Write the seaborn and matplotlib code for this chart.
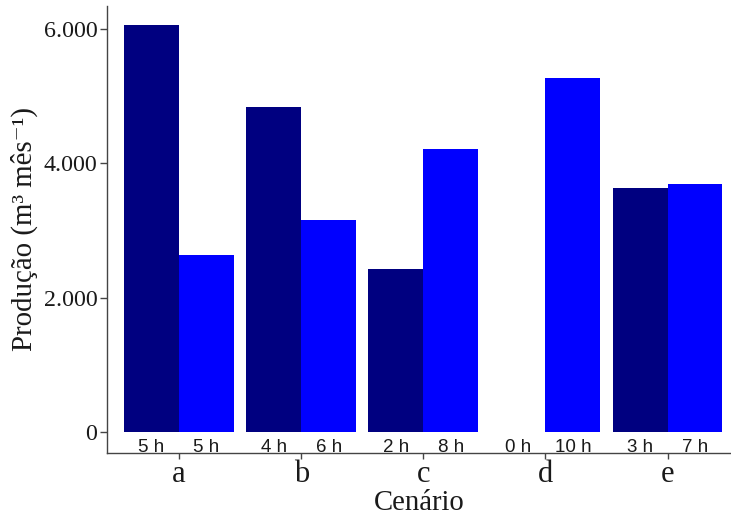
import matplotlib
matplotlib.use("Agg")
import matplotlib.pyplot as plt
import seaborn as sns
import pandas as pd
from matplotlib.ticker import FuncFormatter

cenarios = ["a", "b", "c", "d", "e"]
serie_1 = [6052, 4833, 2419, 0, 3628]
serie_2 = [2627, 3152, 4213, 5259, 3683]
horas_1 = ["5 h", "4 h", "2 h", "0 h", "3 h"]
horas_2 = ["5 h", "6 h", "8 h", "10 h", "7 h"]
series = ["s1", "s2"]
cores = ["#000080", "#0000FF"]

df = pd.DataFrame({
    "Cenário": cenarios * 2,
    "Produção": serie_1 + serie_2,
    "Serie": [series[0]] * len(cenarios) + [series[1]] * len(cenarios),
})

sns.set_theme(style="ticks")
plt.rcParams["font.family"] = ["Liberation Serif", "DejaVu Serif"]

fig = plt.figure(figsize=(7.31, 5.15), dpi=100)
ax = fig.add_axes([0.1464, 0.1204, 0.8536, 0.8685])

sns.barplot(data=df, x="Cenário", y="Produção", hue="Serie", order=cenarios,
            hue_order=series, palette=cores, width=0.9, gap=0, dodge=True,
            saturation=1, errorbar=None, legend=False, ax=ax, edgecolor="none")

off = 0.225
fam_h = ["Liberation Sans Narrow", "Liberation Sans", "DejaVu Sans"]
for i in range(len(cenarios)):
    ax.text(i - off, -295, horas_1[i], ha="center", va="baseline", fontsize=13.5,
            family=fam_h, color="#1a1a1a")
    ax.text(i + off, -295, horas_2[i], ha="center", va="baseline", fontsize=13.5,
            family=fam_h, color="#1a1a1a")

ax.set_xlim(-0.59, 4.52)
ax.set_ylim(-312, 6339)
ax.set_yticks([0, 2000, 4000, 6000])
ax.yaxis.set_major_formatter(FuncFormatter(lambda v, p: f"{int(v):,}".replace(",", ".")))

for s in ["top", "right"]:
    ax.spines[s].set_visible(False)
for s in ["left", "bottom"]:
    ax.spines[s].set_color("#444444")
    ax.spines[s].set_linewidth(1.0)

ax.tick_params(axis="y", labelsize=17.3, colors="#444444", labelcolor="#1a1a1a", length=5, width=1, pad=2)
ax.tick_params(axis="x", labelsize=22, colors="#444444", labelcolor="#1a1a1a", length=4, width=1, pad=1)

ax.set_xlabel("Cenário", fontsize=20.7, color="#1a1a1a", labelpad=1)
ax.set_ylabel("Produção (m³ mês⁻¹)", fontsize=20.8, color="#1a1a1a", labelpad=4)

fig.savefig("out.png", dpi=100)
